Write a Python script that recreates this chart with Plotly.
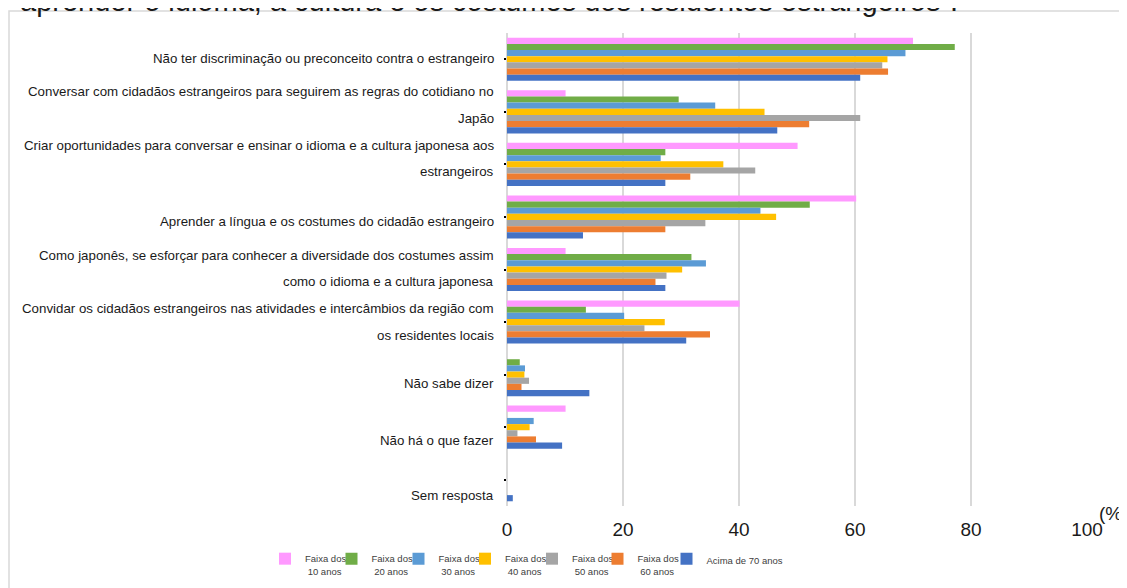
import plotly.graph_objects as go

categories = [
    "Não ter discriminação ou preconceito contra o estrangeiro",
    "Conversar com cidadãos estrangeiros para seguirem as regras do cotidiano no<br>Japão",
    "Criar oportunidades para conversar e ensinar o idioma e a cultura japonesa aos<br>estrangeiros",
    "Aprender a língua e os costumes do cidadão estrangeiro",
    "Como japonês, se esforçar para conhecer a diversidade dos costumes assim<br>como o idioma e a cultura japonesa",
    "Convidar os cidadãos estrangeiros nas atividades e intercâmbios da região com<br>os residentes locais",
    "Não sabe dizer",
    "Não há o que fazer",
    "Sem resposta",
]

series_names = [
    "Faixa dos<br>&nbsp;10 anos",
    "Faixa dos<br>&nbsp;20 anos",
    "Faixa dos<br>&nbsp;30 anos",
    "Faixa dos<br>&nbsp;40 anos",
    "Faixa dos<br>&nbsp;50 anos",
    "Faixa dos<br>&nbsp;60 anos",
    "Acima de 70 anos",
]

faixa_10 = [70.0, 10.1, 50.1, 60.2, 10.1, 40.1, 0.0, 10.1, 0.0]
faixa_20 = [77.2, 29.6, 27.3, 52.2, 31.8, 13.6, 2.2, 0.0, 0.0]
faixa_30 = [68.7, 35.9, 26.5, 43.7, 34.3, 20.2, 3.1, 4.6, 0.0]
faixa_40 = [65.6, 44.4, 37.3, 46.4, 30.2, 27.2, 3.0, 3.9, 0.0]
faixa_50 = [64.7, 60.9, 42.8, 34.2, 27.5, 23.7, 3.8, 1.8, 0.0]
faixa_60 = [65.7, 52.1, 31.6, 27.3, 25.6, 35.0, 2.5, 5.0, 0.0]
acima_70 = [60.9, 46.6, 27.3, 13.1, 27.3, 30.9, 14.2, 9.5, 1.0]

x_ticks = [0, 20, 40, 60, 80, 100]

title_text = "aprender o idioma, a cultura e os costumes dos residentes estrangeiros\u201d."

colors = ["#FF99FF", "#70AD47", "#5B9BD5", "#FFC000", "#A5A5A5", "#ED7D31", "#4472C4"]
series_values = [faixa_10, faixa_20, faixa_30, faixa_40, faixa_50, faixa_60, acima_70]

# style only: vertical nudges of category labels (px, + = down) and legend symbol centres (px)
label_offsets = [-1, -7, -6, 5, -1, 0, 9, 13, 16]
legend_centres = [290, 356.5, 423.5, 490, 557, 622.5, 691.5]

cat_ids = list(range(len(categories)))

FONT = "Liberation Sans, Arial, sans-serif"

# the page body adds an 8px offset; layout below compensates for it
W, H = 1127, 588
L, T, PW, PH = 499, 25, 580, 473

fig = go.Figure()
legend_layouts = {}
for k, (name, vals, col) in enumerate(zip(series_names, series_values, colors)):
    lid = "legend" if k == 0 else f"legend{k + 1}"
    fig.add_trace(go.Bar(
        y=cat_ids, x=vals, name=name, orientation="h",
        marker=dict(color=col, line=dict(width=0)),
        legend=lid,
    ))
    legend_layouts[lid] = dict(
        orientation="h",
        x=(legend_centres[k] - 33) / W, xref="container", xanchor="left",
        y=1 - 538 / H, yref="container", yanchor="top",
        valign="top", itemwidth=30,
        font=dict(family=FONT, size=9.5, color="#404040"),
        bgcolor="rgba(0,0,0,0)",
    )

annotations = []
line_gap = 26.7
for i, lab in enumerate(categories):
    lines = lab.split("<br>")
    n = len(lines)
    for j, ln in enumerate(lines):
        off = label_offsets[i] + (j - (n - 1) / 2) * line_gap
        annotations.append(dict(
            x=-11 / PW, xref="paper", xanchor="right",
            y=cat_ids[i], yref="y", yanchor="middle", yshift=-off,
            text=ln, showarrow=False,
            font=dict(family=FONT, size=13.3, color="#1a1a1a"),
        ))

annotations.append(dict(
    x=(1097 - 8 - L) / PW, xref="paper", xanchor="left",
    y=-0.015, yref="paper", yanchor="middle",
    text="(%)", showarrow=False,
    font=dict(family=FONT, size=19, color="#1a1a1a"),
))

fig.update_layout(
    width=W, height=H,
    margin=dict(l=L, r=W - L - PW, t=T, b=H - T - PH, autoexpand=False),
    paper_bgcolor="white", plot_bgcolor="white",
    barmode="group", bargap=0.18, bargroupgap=0,
    showlegend=True,
    title=dict(
        text=title_text, x=12 / W, xanchor="left", xref="container",
        y=1 - 3 / H, yanchor="bottom", yref="container",
        font=dict(family=FONT, size=29, color="#1a1a1a"),
    ),
    annotations=annotations,
    shapes=[dict(
        type="rect", xref="paper", yref="paper",
        x0=(1 - L) / PW, x1=1.3, y0=-0.5, y1=(T + PH - 3) / PH,
        line=dict(color="#D9D9D9", width=1.5), fillcolor="rgba(0,0,0,0)",
        layer="below",
    )],
    **legend_layouts,
)

fig.update_xaxes(
    range=[0, 100], tickvals=x_ticks, ticktext=[str(v) for v in x_ticks],
    showgrid=True, gridcolor="#D9D9D9", gridwidth=1.5,
    zeroline=True, zerolinecolor="#D9D9D9", zerolinewidth=1.5,
    showline=False, ticks="", ticklabelstandoff=10,
    tickfont=dict(family=FONT, size=19, color="#1a1a1a"),
)
fig.update_yaxes(
    range=[len(categories) - 0.5, -0.5],
    tickvals=cat_ids, showticklabels=False,
    ticks="outside", ticklen=2, tickwidth=2, tickcolor="black",
    showgrid=False, zeroline=False, showline=False,
)

fig.write_html("out.html")
